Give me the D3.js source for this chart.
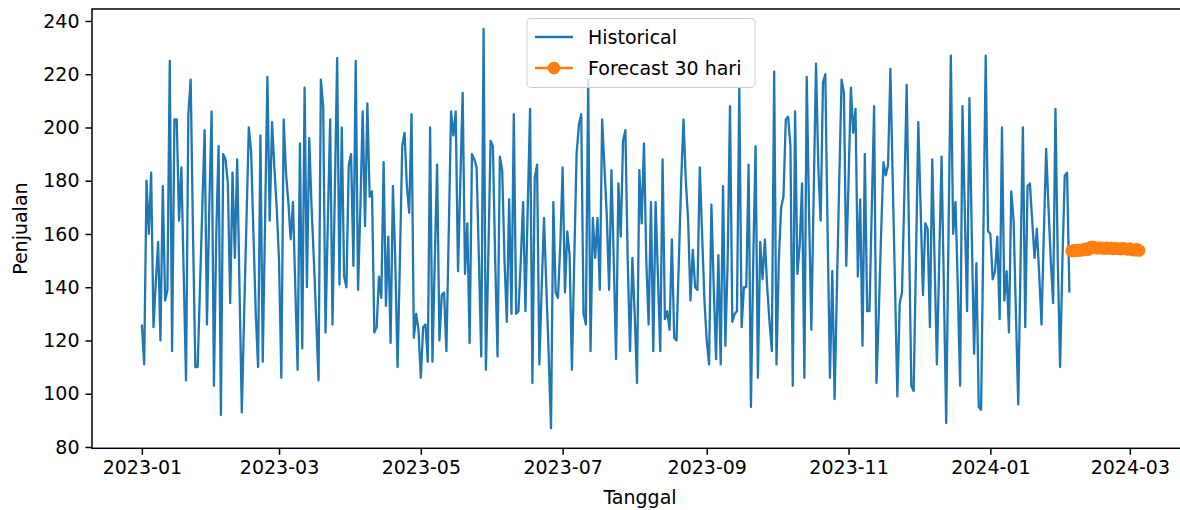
<!DOCTYPE html>
<html>
<head>
<meta charset="utf-8">
<title>Penjualan harian dan forecast</title>
<script src="https://cdn.jsdelivr.net/npm/d3@7"></script>
<style>
  body { margin: 0; background: #fff; }
  svg { font-family: "DejaVu Sans", sans-serif; }
</style>
</head>
<body>
<div id="chart"></div>
<script>
// daily sales, 2023-01-01 .. 2024-02-04
var startDate = new Date(2023, 0, 1);
var sales = [
  126,111,180,160,183,125,142,157,120,178,135,139,225,116,203,203,165,185,145,105,205,218,160,110,110,140,170,199,126,170,206,103,160,193,
  92,190,188,179,134,183,151,188,140,93,130,165,200,191,160,130,110,197,112,165,219,165,202,185,170,150,106,203,183,172,158,172,140,109,194,
  117,215,140,196,170,150,128,105,218,208,123,165,203,126,175,226,141,200,144,140,186,190,148,225,139,170,206,163,209,174,176,123,125,144,136,187,133,159,
  119,178,150,110,150,193,198,178,168,205,121,130,124,106,125,126,112,200,112,150,186,120,137,138,116,160,206,197,206,146,180,213,145,164,119,190,
  188,185,150,114,237,109,150,195,193,150,114,189,184,150,127,173,130,205,130,131,150,172,131,170,207,104,181,186,111,140,166,140,115,87,172,138,
  136,156,185,138,161,152,109,150,190,201,205,130,126,218,116,166,151,166,139,203,185,167,139,184,150,113,179,159,195,199,150,116,151,130,104,184,
  164,194,150,126,172,116,172,144,116,188,128,131,124,158,121,120,150,180,203,180,165,135,154,140,139,185,160,135,120,111,171,140,113,152,111,178,118,150,
  208,127,130,131,215,125,140,140,186,95,150,193,106,157,143,158,140,127,116,221,111,150,170,174,203,204,193,103,206,145,156,179,106,219,168,124,
  175,224,185,165,217,220,160,106,146,98,140,180,218,213,148,180,215,198,207,144,173,118,190,131,131,170,208,104,130,160,187,182,186,222,180,140,99,
  134,138,175,216,160,103,101,150,202,170,137,164,162,125,188,150,111,150,189,140,89,160,227,160,172,140,103,208,168,131,211,160,115,149,95,94,
  160,227,161,160,143,146,159,128,200,135,146,123,176,165,130,96,150,200,125,178,179,165,151,162,145,126,160,192,170,150,134,207,150,110,150,182,183,138
];

// 30 day forecast, 2024-02-05 .. 2024-03-05
var forecastStart = new Date(2024, 1, 5);
var forecast = [
  153.6,153.9,153.7,154.0,153.8,154.2,154.4,154.1,154.9,155.2,
  154.8,154.6,154.9,154.7,154.5,154.8,154.6,154.7,154.4,154.6,
  154.5,154.3,154.6,154.4,154.2,154.5,154.1,153.9,154.2,153.8
];

var yTicks = [80, 100, 120, 140, 160, 180, 200, 220, 240];
var xTicks = ["2023-01", "2023-03", "2023-05", "2023-07", "2023-09", "2023-11", "2024-01", "2024-03"];

var width = 1180, height = 510;
var plot = { x0: 92, x1: 1189, y0: 9, y1: 448.3 };
var fs = 19;
var blue = "#1f77b4", orange = "#ff7f0e";

var histData = sales.map(function(v, i) {
  return { date: d3.timeDay.offset(startDate, i), value: v };
});
var fcData = forecast.map(function(v, i) {
  return { date: d3.timeDay.offset(forecastStart, i), value: v };
});

var day = 864e5;
var x = d3.scaleTime()
  .domain([new Date(+startDate - 21.45 * day), new Date(+fcData[fcData.length - 1].date + 21.45 * day)])
  .range([plot.x0, plot.x1]);
var y = d3.scaleLinear()
  .domain([79.5, 244.5])
  .range([plot.y1, plot.y0]);

var svg = d3.select("#chart").append("svg")
  .attr("width", width)
  .attr("height", height);

svg.append("rect")
  .attr("width", width).attr("height", height)
  .attr("fill", "#fff");

var line = d3.line()
  .x(function(d) { return x(d.date); })
  .y(function(d) { return y(d.value); });

svg.append("path")
  .datum(histData)
  .attr("d", line)
  .attr("fill", "none")
  .attr("stroke", blue)
  .attr("stroke-width", 2.3)
  .attr("stroke-linejoin", "round");

svg.append("path")
  .datum(fcData)
  .attr("d", line)
  .attr("fill", "none")
  .attr("stroke", orange)
  .attr("stroke-width", 2.3);

svg.selectAll(".dot")
  .data(fcData)
  .enter()
  .append("circle")
  .attr("class", "dot")
  .attr("cx", function(d) { return x(d.date); })
  .attr("cy", function(d) { return y(d.value); })
  .attr("r", 6.3)
  .attr("fill", orange);

// axes
var parseMonth = d3.timeParse("%Y-%m");
var xAxis = d3.axisBottom(x)
  .tickValues(xTicks.map(parseMonth))
  .tickFormat(d3.timeFormat("%Y-%m"))
  .tickSize(6.5)
  .tickPadding(6);
var yAxis = d3.axisLeft(y)
  .tickValues(yTicks)
  .tickSize(6.5)
  .tickPadding(6);

var gx = svg.append("g")
  .attr("transform", "translate(0," + plot.y1 + ")")
  .call(xAxis);
var gy = svg.append("g")
  .attr("transform", "translate(" + plot.x0 + ",0)")
  .call(yAxis);

[gx, gy].forEach(function(g) {
  g.select(".domain").remove();
  g.selectAll("line").attr("stroke", "#000").attr("stroke-width", 1.5);
  g.selectAll("text")
    .attr("fill", "#000")
    .style("font-size", fs + "px")
    .style("font-family", "DejaVu Sans");
});

// frame
svg.append("rect")
  .attr("x", plot.x0).attr("y", plot.y0)
  .attr("width", plot.x1 - plot.x0).attr("height", plot.y1 - plot.y0)
  .attr("fill", "none")
  .attr("stroke", "#000")
  .attr("stroke-width", 1.5);

// axis titles
svg.append("text")
  .text("Tanggal")
  .attr("x", 640)
  .attr("y", 504)
  .attr("text-anchor", "middle")
  .style("font-size", fs + "px");

svg.append("text")
  .text("Penjualan")
  .attr("text-anchor", "middle")
  .attr("transform", "translate(27," + (plot.y0 + plot.y1) / 2 + ") rotate(-90)")
  .style("font-size", fs + "px");

// legend
var leg = svg.append("g").attr("transform", "translate(527,18.5)");
leg.append("rect")
  .attr("width", 228).attr("height", 69)
  .attr("rx", 4)
  .attr("fill", "#fff").attr("fill-opacity", 0.8)
  .attr("stroke", "#cccccc").attr("stroke-width", 1);

var items = [
  { label: "Historical", color: blue, marker: false },
  { label: "Forecast 30 hari", color: orange, marker: true }
];
items.forEach(function(it, i) {
  var cy = 18.5 + i * 31;
  leg.append("line")
    .attr("x1", 8).attr("x2", 46)
    .attr("y1", cy).attr("y2", cy)
    .attr("stroke", it.color).attr("stroke-width", 2.3);
  if (it.marker) {
    leg.append("circle")
      .attr("cx", 27).attr("cy", cy).attr("r", 6.3)
      .attr("fill", it.color);
  }
  leg.append("text")
    .text(it.label)
    .attr("x", 61).attr("y", cy)
    .attr("dy", "0.35em")
    .style("font-size", fs + "px");
});
</script>
</body>
</html>
